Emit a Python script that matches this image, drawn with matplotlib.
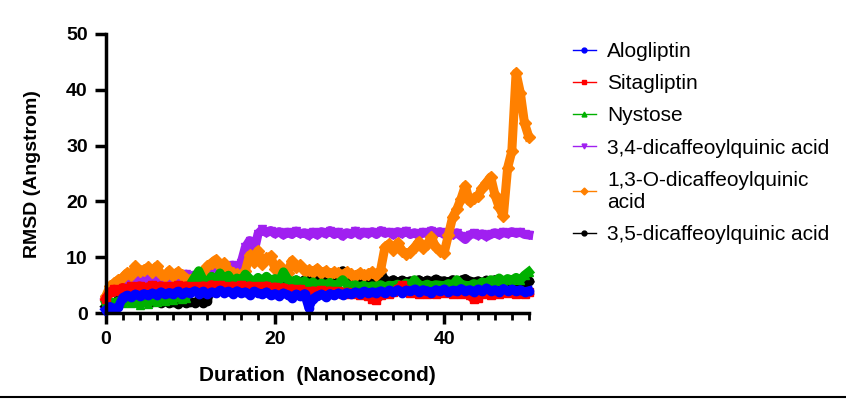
import numpy as np
import matplotlib.pyplot as plt
from matplotlib.ticker import MultipleLocator
from matplotlib.lines import Line2D

plt.rcParams['font.family'] = ['Liberation Sans', 'DejaVu Sans']

# time axis, samples every 0.5 ns
duration = np.linspace(0, 50, 101)

alogliptin = [0.6, 1.2, 0.8, 1.1, 2.8, 3.2, 2.9, 3.4, 3.1, 3.5, 3.2, 3.6,
              3.3, 3.8, 3.4, 3.7, 3.5, 3.9, 3.4, 3.8, 3.6, 4.0, 3.5, 3.9,
              3.4, 3.8, 3.6, 4.1, 3.7, 3.9, 3.5, 4.0, 3.6, 3.8, 3.3, 3.9,
              3.6, 3.4, 3.8, 3.2, 3.5, 3.1, 3.6, 3.3, 2.8, 3.4, 3.0, 3.5,
              1.0, 2.6, 3.1, 3.4, 2.9, 3.5, 3.2, 3.6, 3.3, 3.7, 3.4, 3.8,
              3.5, 3.9, 3.6, 3.8, 3.7, 4.0, 3.6, 4.1, 3.8, 4.2, 3.7, 4.1,
              3.9, 4.3, 3.8, 4.2, 4.0, 3.7, 4.2, 3.9, 4.3, 3.8, 4.1, 3.9,
              4.4, 4.0, 4.2, 3.8, 4.3, 3.9, 4.5, 4.0, 4.2, 3.8, 4.4, 4.0,
              4.3, 3.9, 4.2, 3.8, 4.0]

sitagliptin = [2.6, 3.8, 4.3, 4.0, 4.6, 4.2, 4.8, 4.4, 4.9, 4.5, 4.7, 5.0,
               4.6, 4.9, 4.4, 4.8, 4.6, 5.0, 4.7, 4.9, 4.5, 4.8, 4.4, 4.9,
               4.7, 5.1, 4.6, 5.0, 4.8, 4.5, 4.9, 4.6, 5.0, 4.7, 4.9, 4.5,
               4.8, 4.6, 4.9, 4.4, 4.7, 4.3, 4.6, 4.2, 4.4, 4.0, 4.3, 3.9,
               3.5, 4.0, 3.7, 4.1, 3.8, 4.0, 3.6, 3.9, 3.5, 3.8, 3.4, 3.7,
               3.3, 3.6, 3.1, 2.6, 2.4, 3.2, 3.6, 3.4, 3.8, 4.3, 5.0, 4.2,
               3.6, 3.9, 3.5, 3.8, 3.4, 3.7, 3.5, 3.9, 3.6, 3.8, 3.4, 3.7,
               3.5, 3.8, 3.2, 2.5, 2.8, 3.4, 3.6, 3.3, 3.7, 3.5, 3.9, 3.6,
               3.8, 3.4, 3.7, 3.5, 3.8]

nystose = [1.8, 2.1, 1.7, 2.2, 1.9, 2.4, 1.8, 2.0, 1.5, 2.2, 1.7, 2.4,
           2.0, 2.6, 2.2, 2.8, 2.4, 2.9, 2.6, 2.8, 5.2, 6.4, 7.6, 6.0,
           5.4, 6.6, 5.8, 7.2, 6.0, 6.8, 5.6, 6.3, 5.8, 7.0, 6.2, 5.6,
           6.4, 5.8, 6.6, 5.9, 6.2, 5.7, 7.4, 6.1, 5.6, 6.0, 5.4, 5.8,
           5.2, 5.6, 5.0, 5.4, 5.1, 5.5, 4.9, 5.3, 6.0, 5.2, 4.8, 5.1,
           4.7, 5.0, 4.6, 4.9, 4.8, 5.1, 4.7, 5.0, 4.9, 5.2, 4.8, 5.4,
           5.0, 6.0, 5.1, 4.9, 5.2, 4.8, 5.1, 5.0, 4.9, 5.3, 5.0, 6.0,
           5.2, 5.0, 4.9, 5.3, 5.1, 5.6, 5.4, 6.0, 5.8, 6.3, 5.7, 6.2,
           5.9, 6.4, 6.0, 6.8, 7.4]

dcq_34 = [2.8, 4.0, 4.8, 5.2, 5.0, 5.6, 5.4, 6.2, 5.8, 6.4, 6.0, 6.6,
          6.2, 6.5, 6.0, 6.4, 6.1, 6.6, 6.3, 7.0, 6.5, 6.8, 6.2, 6.0,
          6.6, 7.2, 7.5, 8.0, 8.4, 8.0, 8.6, 8.2, 9.0, 11.8, 13.0, 10.8,
          14.2, 15.0, 14.4, 14.8, 14.2, 14.6, 14.0, 14.5, 14.1, 14.7, 14.2, 14.4,
          13.9, 14.5, 14.0, 14.6, 14.2, 14.8, 14.1, 14.5, 13.8, 14.4, 14.1, 14.7,
          14.0, 14.5, 14.2, 14.6, 14.1, 14.8, 14.3, 14.5, 14.0, 14.6, 14.2, 14.7,
          14.1, 14.4, 13.9, 14.5, 14.2, 14.8, 14.3, 14.6, 14.1, 14.5, 14.0, 14.4,
          13.8, 13.2, 14.0, 14.3, 13.9, 14.2, 13.7, 14.1, 14.4, 14.0, 14.5, 14.2,
          14.6, 14.3, 14.5, 14.1, 14.0]

dcq_13 = [3.0, 4.8, 5.4, 6.0, 6.4, 7.2, 6.8, 8.4, 7.6, 7.8, 8.2, 7.4,
          8.4, 7.0, 6.6, 7.6, 6.6, 7.4, 6.8, 6.2, 6.0, 6.4, 5.8, 7.2,
          8.4, 9.0, 9.6, 8.4, 9.0, 7.8, 7.2, 7.0, 6.8, 7.6, 10.4, 9.2,
          11.2, 8.8, 9.8, 10.2, 8.0, 8.6, 7.8, 7.2, 9.4, 8.2, 8.6, 7.6,
          7.8, 7.4, 8.0, 7.2, 7.6, 7.0, 7.4, 7.2, 6.8, 7.4, 7.0, 6.6,
          7.2, 6.8, 7.0, 7.4, 6.8, 7.8, 11.8, 12.4, 11.4, 12.6, 11.2, 10.6,
          11.0, 11.8, 12.8, 11.6, 12.4, 13.6, 11.8, 11.2, 10.8, 14.0, 17.2, 18.6,
          20.5, 22.8, 20.0, 20.6, 21.0, 22.4, 23.4, 24.4, 21.2, 19.0, 17.4, 26.0,
          29.0, 43.0, 39.5, 34.0, 31.6]

dcq_35 = [1.2, 2.0, 1.8, 2.4, 2.2, 2.6, 2.0, 2.4, 2.1, 2.5, 2.2, 2.0,
          2.3, 1.9, 2.2, 1.8, 2.0, 1.7, 2.1, 1.8, 2.0, 1.9, 2.3, 1.8,
          2.2, 4.8, 5.2, 4.9, 5.3, 5.0, 5.4, 5.1, 5.5, 5.2, 5.6, 5.3,
          5.4, 5.1, 5.6, 5.2, 5.5, 5.8, 5.3, 5.7, 5.4, 5.9, 5.5, 6.0,
          5.6, 6.2, 5.7, 6.1, 5.8, 6.3, 5.9, 6.4, 7.6, 6.2, 6.6, 6.0,
          6.4, 5.9, 6.5, 6.1, 6.3, 7.2, 6.0, 5.6, 6.0, 5.4, 5.9, 5.5,
          5.8, 5.4, 6.0, 5.5, 5.9, 5.6, 6.1, 5.7, 5.8, 5.5, 6.0, 5.6,
          5.9, 6.2, 5.7, 5.5, 5.8, 5.4, 5.9, 5.6, 6.0, 5.5, 5.8, 5.6,
          5.9, 5.4, 5.7, 5.3, 5.8]

labels = ['Alogliptin', 'Sitagliptin', 'Nystose', '3,4-dicaffeoylquinic acid',
          '1,3-O-dicaffeoylquinic\nacid', '3,5-dicaffeoylquinic acid']
series = [alogliptin, sitagliptin, nystose, dcq_34, dcq_13, dcq_35]
colors = ['#0000ff', '#ff0000', '#00b000', '#a020f0', '#ff8000', '#000000']
markers = ['o', 's', '^', 'v', 'D', 'o']
zorders = [8, 7, 6, 4, 5, 3]

fig = plt.figure(figsize=(8.46, 3.99), dpi=100)
ax = fig.add_axes([0.125, 0.215, 0.5, 0.70])

for y, lab, c, m, z in zip(series, labels, colors, markers, zorders):
    ax.plot(duration, y, color=c, marker=m, markersize=6, linewidth=6.5,
            solid_joinstyle='round', label=lab, zorder=z, clip_on=False)

ax.set_xlim(0, 50)
ax.set_ylim(0, 50)
ax.xaxis.set_major_locator(MultipleLocator(20))
ax.xaxis.set_minor_locator(MultipleLocator(2))
ax.yaxis.set_major_locator(MultipleLocator(10))
for s in ['top', 'right']:
    ax.spines[s].set_visible(False)
for s in ['left', 'bottom']:
    ax.spines[s].set_linewidth(2.5)
    ax.spines[s].set_zorder(10)
ax.tick_params(which='major', length=8, width=2.5, labelsize=14, pad=5)
ax.tick_params(which='minor', length=5, width=2)
for t in ax.get_xticklabels() + ax.get_yticklabels():
    t.set_fontweight('bold')

ax.set_xlabel('Duration  (Nanosecond)', fontsize=15, fontweight='bold', labelpad=13)
ax.set_ylabel('RMSD (Angstrom)', fontsize=14, fontweight='bold', labelpad=18)

handles = [Line2D([0], [0], color=c, marker=m, markersize=3.5, linewidth=1)
           for c, m in zip(colors, markers)]
leg = ax.legend(handles, labels, loc='upper left', bbox_to_anchor=(1.085, 1.0),
                frameon=False, fontsize=15, handlelength=1.1, labelspacing=0.63,
                handletextpad=0.55, borderaxespad=0)

fig.add_artist(Line2D([0, 1], [0.005, 0.005], color='black', linewidth=1.5,
                      transform=fig.transFigure))

fig.savefig('out.png', dpi=100)
